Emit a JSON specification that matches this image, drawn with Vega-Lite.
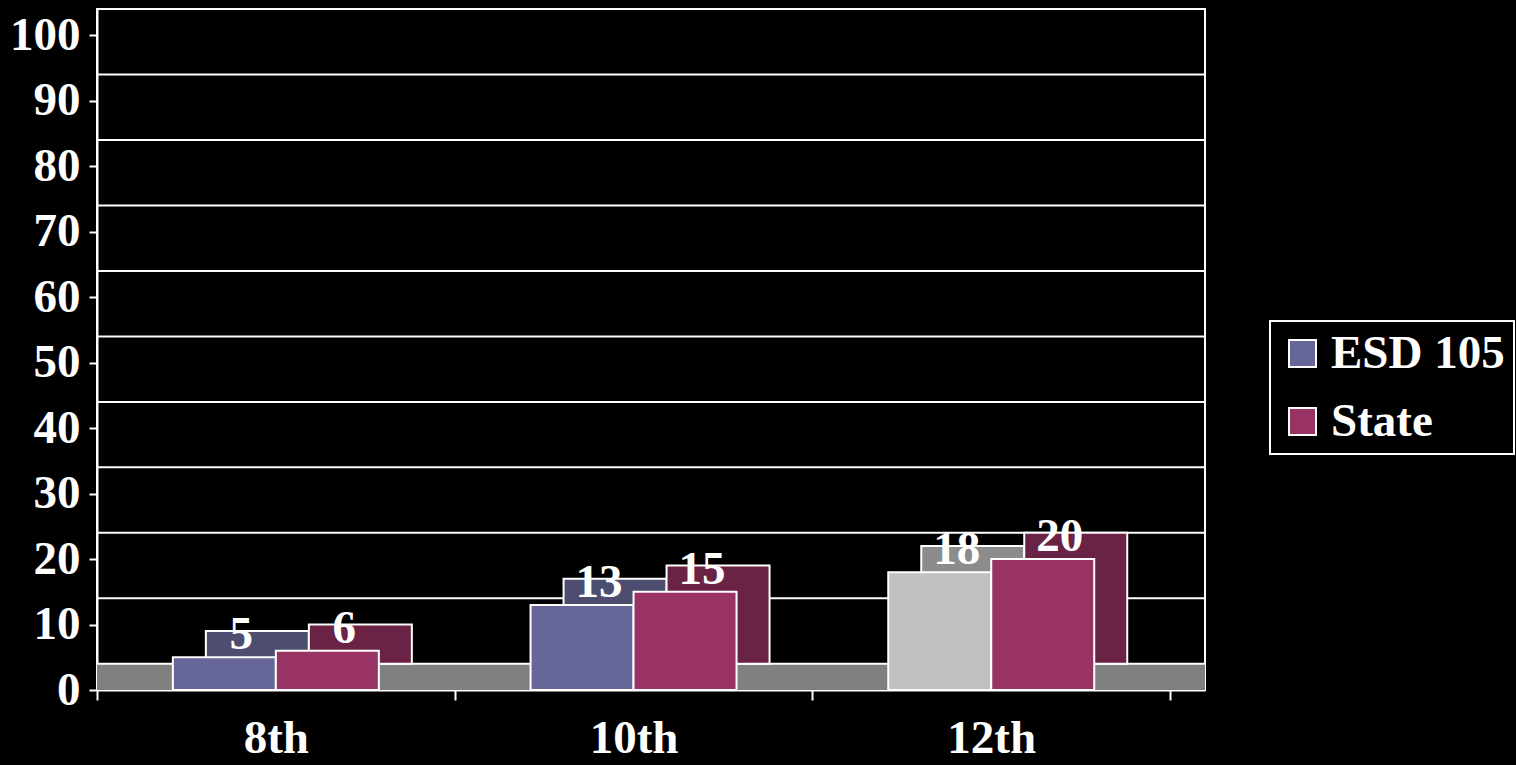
{
  "$schema": "https://vega.github.io/schema/vega-lite/v6.json",
  "width": 1108,
  "height": 681,
  "autosize": {"type": "none"},
  "padding": {"left": 97, "top": 9, "right": 311, "bottom": 75},
  "background": "black",
  "config": {"view": {"stroke": "white", "strokeWidth": 2}, "font": "'Liberation Serif', 'Times New Roman', serif"},
  "datasets": {
    "bars": [
      {"grade": "8th", "series": "ESD 105", "value": 5},
      {"grade": "8th", "series": "State", "value": 6},
      {"grade": "10th", "series": "ESD 105", "value": 13},
      {"grade": "10th", "series": "State", "value": 15},
      {"grade": "12th", "series": "ESD 105", "value": 18},
      {"grade": "12th", "series": "State", "value": 20}
    ],
    "grid": [
      {"tick": 0}, {"tick": 10}, {"tick": 20}, {"tick": 30}, {"tick": 40}, {"tick": 50},
      {"tick": 60}, {"tick": 70}, {"tick": 80}, {"tick": 90}, {"tick": 100}
    ]
  },
  "layer": [
    {
      "layer": [
        {
          "data": {"values": [{}]},
          "mark": {"type": "rect", "fill": "#808080"},
          "encoding": {
            "x": {"value": 0},
            "x2": {"value": "width"},
            "y": {"datum": -4, "type": "quantitative", "scale": {"domain": [-4, 100], "nice": false, "zero": false}, "axis": null},
            "y2": {"datum": 0}
          }
        },
        {
          "data": {"name": "grid"},
          "mark": {"type": "rule", "color": "white", "strokeWidth": 2},
          "encoding": {
            "y": {"field": "tick", "type": "quantitative", "scale": {"domain": [-4, 100], "nice": false, "zero": false}, "axis": null}
          }
        },
        {
          "data": {"name": "bars"},
          "mark": {"type": "bar", "stroke": "white", "strokeWidth": 2},
          "encoding": {
            "x": {
              "field": "grade", "type": "nominal", "sort": ["8th", "10th", "12th"],
              "scale": {"paddingInner": 0, "paddingOuter": 0.0488, "align": 0},
              "axis": {"title": null, "labelAngle": 0, "labelFontSize": 47, "labelFont": "'Liberation Serif', 'Times New Roman', serif", "labelFontWeight": "bold", "labelColor": "white", "tickColor": "white", "tickSize": 10, "tickWidth": 2, "tickBand": "extent", "domainColor": "white", "domainWidth": 2, "labelPadding": 15, "grid": false}
            },
            "xOffset": {"field": "series", "type": "nominal", "scale": {"paddingInner": 0, "paddingOuter": 0.7365, "align": 0.7176}},
            "y": {"field": "value", "type": "quantitative", "scale": {"domain": [-4, 100], "nice": false, "zero": false}, "axis": null},
            "y2": {"datum": 0},
            "fill": {
              "condition": [
                {"test": "datum.grade === '12th' && datum.series === 'ESD 105'", "value": "#8c8c8c"},
                {"test": "datum.series === 'ESD 105'", "value": "#4d4d70"}
              ],
              "value": "#6a2344"
            }
          }
        }
      ]
    },
    {
      "data": {"name": "bars"},
      "layer": [
        {
          "mark": {"type": "bar", "stroke": "white", "strokeWidth": 2},
          "encoding": {
            "x": {
              "field": "grade", "type": "nominal", "sort": ["8th", "10th", "12th"],
              "scale": {"paddingInner": 0, "paddingOuter": 0.0488, "align": 0},
              "axis": {"title": null, "labelAngle": 0, "labelFontSize": 47, "labelFont": "'Liberation Serif', 'Times New Roman', serif", "labelFontWeight": "bold", "labelColor": "white", "tickColor": "white", "tickSize": 10, "tickWidth": 2, "tickBand": "extent", "domainColor": "white", "domainWidth": 2, "labelPadding": 15, "grid": false}
            },
            "xOffset": {"field": "series", "type": "nominal", "scale": {"paddingInner": 0, "paddingOuter": 0.7365, "align": 0.5}},
            "y": {
              "field": "value", "type": "quantitative",
              "scale": {"domain": [0, 104], "nice": false},
              "axis": {"title": null, "values": [0, 10, 20, 30, 40, 50, 60, 70, 80, 90, 100], "labelFontSize": 47, "labelFont": "'Liberation Serif', 'Times New Roman', serif", "labelFontWeight": "bold", "labelColor": "white", "tickColor": "white", "tickSize": 8, "tickWidth": 2, "domainColor": "white", "domainWidth": 2, "labelPadding": 9, "grid": false}
            },
            "color": {
              "field": "series", "type": "nominal",
              "scale": {"domain": ["ESD 105", "State"], "range": ["#666699", "#993366"]},
              "condition": {"test": "datum.grade === '12th' && datum.series === 'ESD 105'", "value": "#c0c0c0"},
              "legend": {
                "title": null, "orient": "none", "legendX": 1173, "legendY": 312,
                "fillColor": "black", "strokeColor": "white", "padding": 9,
                "labelFont": "'Liberation Serif', 'Times New Roman', serif", "labelFontSize": 47, "labelFontWeight": "bold", "labelColor": "white", "labelLimit": 400,
                "symbolType": "square", "symbolSize": 729, "symbolStrokeColor": "white", "symbolStrokeWidth": 2,
                "labelOffset": 5, "rowPadding": 20,
                "encode": {"legend": {"update": {"strokeWidth": {"value": 2}}}}
              }
            }
          }
        },
        {
          "mark": {"type": "text", "color": "white", "font": "'Liberation Serif', 'Times New Roman', serif", "fontSize": 47, "fontWeight": "bold", "dx": 17, "dy": -8, "baseline": "alphabetic", "align": "center"},
          "encoding": {
            "x": {"field": "grade", "type": "nominal", "sort": ["8th", "10th", "12th"]},
            "xOffset": {"field": "series", "type": "nominal", "scale": {"paddingInner": 0, "paddingOuter": 0.7365, "align": 0.5}},
            "y": {"field": "value", "type": "quantitative", "scale": {"domain": [0, 104], "nice": false}},
            "text": {"field": "value", "type": "quantitative"}
          }
        }
      ]
    }
  ],
  "resolve": {"scale": {"y": "independent", "xOffset": "independent"}}
}
